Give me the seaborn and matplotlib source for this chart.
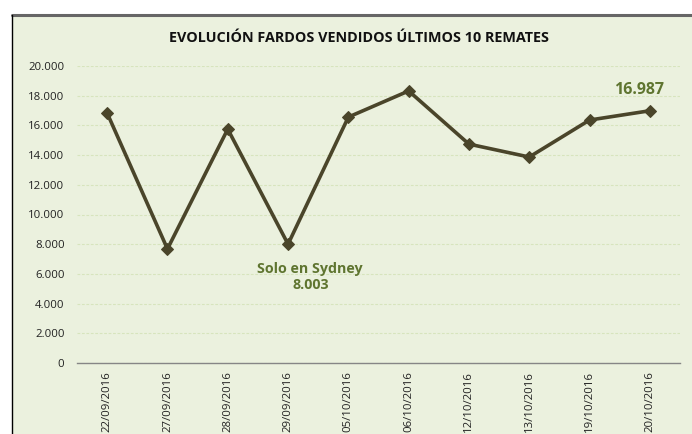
import numpy as np
import pandas as pd
import matplotlib.pyplot as plt
import matplotlib.patches as mpatches
from matplotlib.ticker import FuncFormatter
import seaborn as sns

# ===================== DATA =====================
fechas = ["22/09/2016", "27/09/2016", "28/09/2016", "29/09/2016", "05/10/2016",
          "06/10/2016", "12/10/2016", "13/10/2016", "19/10/2016", "20/10/2016"]
fardos = [16830, 7680, 15750, 8003, 16560, 18320, 14740, 13870, 16360, 16987]
y_ticks = [0, 2000, 4000, 6000, 8000, 10000, 12000, 14000, 16000, 18000, 20000]

df = pd.DataFrame({"fecha": fechas, "fardos": fardos})

# ===================== STYLE =====================
sns.set_style("white")
plt.rcParams["font.family"] = ["Open Sans", "DejaVu Sans"]

bg = "#EBF1DE"
line_col = "#4A452A"
note_col = "#5F7530"

fig = plt.figure(figsize=(6.92, 4.34), dpi=100)
fig.patch.set_facecolor("white")

# chart area frame (extends past the bottom/right edge like the screenshot)
W, H = 692, 434
frame = mpatches.Rectangle((12 / W, -0.1), 1.2, (434 - 15) / H + 0.1,
                           transform=fig.transFigure, facecolor=bg,
                           edgecolor="none", zorder=-10)
fig.patches.append(frame)
fig.add_artist(plt.Line2D([12 / W, 1], [1 - 15 / H] * 2, color="#666666", lw=2.2,
                          transform=fig.transFigure, zorder=-5))
fig.add_artist(plt.Line2D([12 / W] * 2, [0, 1 - 15 / H], color="black", lw=1,
                          transform=fig.transFigure, zorder=-5))

ax = fig.add_axes([77 / W, 1 - 363 / H, (680 - 77) / W, (363 - 66) / H])
ax.set_facecolor(bg)

sns.lineplot(data=df, x="fecha", y="fardos", sort=False, ax=ax,
             color=line_col, lw=2.6, marker="D", markersize=6.5,
             markeredgecolor=line_col, zorder=3)

ax.set_ylim(0, 20000)
ax.set_xlim(-0.5, len(fechas) - 0.5)
ax.set_yticks(y_ticks)
ax.yaxis.set_major_formatter(FuncFormatter(lambda v, p: f"{int(v):,}".replace(",", ".")))
ax.grid(axis="y", color="#D7E4BD", ls=(0, (2.5, 1.5)), lw=0.8)
ax.grid(axis="x", visible=False)

for s in ["top", "right", "left"]:
    ax.spines[s].set_visible(False)
ax.spines["bottom"].set_color("#868686")
ax.spines["bottom"].set_linewidth(1)

ax.tick_params(axis="y", length=0, labelsize=8.2, pad=9, labelcolor="#222222")
ax.tick_params(axis="x", length=0, labelsize=8.2, pad=6, labelcolor="#222222")
plt.setp(ax.get_xticklabels(), rotation=90, va="top", ha="center")
ax.set_xlabel("")
ax.set_ylabel("")

ax.set_title("EVOLUCIÓN FARDOS VENDIDOS ÚLTIMOS 10 REMATES", fontsize=10.4,
             fontweight="bold", color="#111111", pad=17, x=0.467)

# ===================== ANNOTATIONS =====================
ax.annotate("Solo en Sydney\n8.003", xy=(3, fardos[3]), xytext=(16, -13),
            textcoords="offset points", ha="center", va="top",
            fontsize=10.3, fontweight="bold", color=note_col, linespacing=1.2)
ax.annotate(f"{fardos[-1]:,}".replace(",", "."), xy=(9, fardos[-1]),
            xytext=(-8, 15), textcoords="offset points", ha="center",
            va="center", fontsize=11.5, fontweight="bold", color=note_col)

fig.savefig("out.png", dpi=100)
